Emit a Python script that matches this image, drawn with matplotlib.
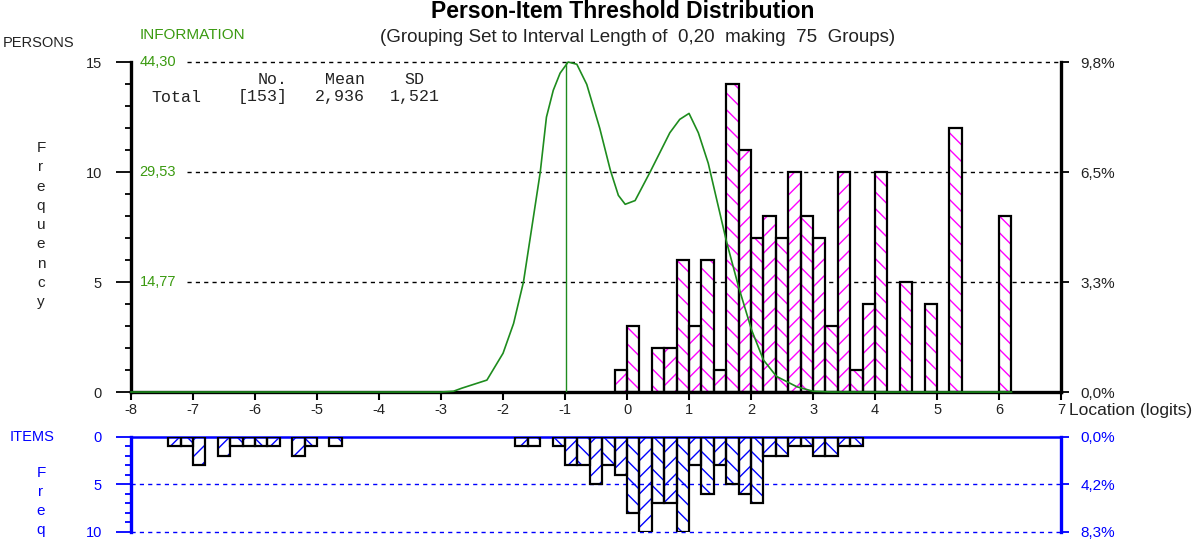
import numpy as np
import matplotlib.pyplot as plt

plt.rcParams['font.family'] = ['Liberation Sans', 'DejaVu Sans']
plt.rcParams['axes.unicode_minus'] = False
plt.rcParams['hatch.linewidth'] = 1.0

# person locations: left edge of each 0.2-logit group and the count in it
person_left = [-0.2, 0.0, 0.4, 0.6, 0.8, 1.0, 1.2, 1.4, 1.6, 1.8, 2.0, 2.2, 2.4,
               2.6, 2.8, 3.0, 3.2, 3.4, 3.6, 3.8, 4.0, 4.4, 4.8, 5.2, 6.0]
person_count = [1, 3, 2, 2, 6, 3, 6, 1, 14, 11, 7, 8, 7,
                10, 8, 7, 3, 10, 1, 4, 10, 5, 4, 12, 8]

# item thresholds, same grouping
item_left = [-7.4, -7.2, -7.0, -6.6, -6.4, -6.2, -6.0, -5.8, -5.4, -5.2, -4.8,
             -1.8, -1.6, -1.2, -1.0, -0.8, -0.6, -0.4, -0.2, 0.0, 0.2, 0.4, 0.6,
             0.8, 1.0, 1.2, 1.4, 1.6, 1.8, 2.0, 2.2, 2.4, 2.6, 2.8, 3.0, 3.2,
             3.4, 3.6]
item_count = [1, 1, 3, 2, 1, 1, 1, 1, 2, 1, 1,
              1, 1, 1, 3, 3, 5, 3, 4, 8, 10, 7, 7,
              10, 3, 6, 3, 5, 6, 7, 2, 2, 1, 1, 2, 2,
              1, 1]

# test information curve
info_x = [-8.0, -3.0, -2.8, -2.67, -2.26, -2.0, -1.83, -1.67, -1.51, -1.4, -1.3,
          -1.19, -1.08, -0.95, -0.81, -0.65, -0.44, -0.27, -0.14, -0.03, 0.13,
          0.37, 0.69, 0.85, 1.0, 1.15, 1.31, 1.45, 1.61, 1.8, 2.01, 2.2, 2.41,
          2.74, 3.0, 3.3, 6.2]
info_y = [0.0, 0.0, 0.1, 0.5, 1.6, 5.2, 9.2, 14.8, 23.5, 29.5, 36.9,
          40.5, 42.8, 44.3, 44.0, 41.3, 35.4, 29.8, 26.4, 25.2, 25.7,
          29.5, 34.8, 36.6, 37.4, 34.8, 30.7, 25.7, 20.0, 14.1, 8.3, 4.3, 2.1,
          0.7, 0.1, 0.0, 0.0]
info_max = 44.30
info_peak = -0.98

n_persons, mean_p, sd_p = 153, '2,936', '1,521'
n_items = sum(item_count)

GREEN = '#1e8c1e'
GREEN_T = '#3a9a10'
MAG = '#ff00ff'
BLUE = '#0000ff'
GREY = '#222222'


def comma(v, nd):
    return f'{v:.{nd}f}'.replace('.', ',')


def hatch_for(left):
    return '\\\\' if round((left + 8) / 0.2) % 2 == 0 else '//'


fig = plt.figure(figsize=(12, 5.44), dpi=100)
ax = fig.add_axes([0.1092, 0.2794, 0.7750, 0.6066])
ax2 = fig.add_axes([0.1092, 0.0221, 0.7750, 0.1746])

# ---- persons ----
for l, c in zip(person_left, person_count):
    ax.bar(l, c, width=0.2, align='edge', color='white', edgecolor=MAG,
           hatch=hatch_for(l), linewidth=0, zorder=2)
ax.bar(person_left, person_count, width=0.2, align='edge', fill=False,
       edgecolor='black', linewidth=1.6, zorder=3)

ax.set_xlim(-8, 7)
ax.set_ylim(0, 15)
ax.hlines([5, 10, 15], -7.1, 7, colors='black', linestyles=(0, (3, 3)),
          linewidth=1, zorder=1, clip_on=False)
for s in ['left', 'bottom', 'right']:
    ax.spines[s].set_linewidth(2.4)
ax.spines['top'].set_visible(False)
ax.set_yticks([0, 5, 10, 15])
ax.set_yticks(range(16), minor=True)
ax.set_xticks(range(-8, 8))
ax.tick_params(axis='y', which='major', direction='out', length=11, width=1.3,
               pad=10, labelsize=10.5, labelcolor=GREY)
ax.tick_params(axis='y', which='minor', direction='out', length=4.5, width=1.3)
ax.tick_params(axis='x', direction='out', length=6, width=1.5, pad=2,
               labelsize=10.5, labelcolor=GREY)

ax_r = ax.twinx()
ax_r.set_ylim(0, 15)
ax_r.set_yticks([0, 5, 10, 15])
ax_r.set_yticklabels([comma(v / n_persons * 100, 1) + '%' for v in [0, 5, 10, 15]])
ax_r.tick_params(axis='y', direction='out', length=6, width=1.3, pad=8,
                 labelsize=11, labelcolor=GREY)
for s in ax_r.spines.values():
    s.set_visible(False)

ax_i = ax.twinx()
ax_i.set_ylim(0, info_max)
ax_i.set_yticks([])
for s in ax_i.spines.values():
    s.set_visible(False)
ax_i.plot(info_x, info_y, color=GREEN, linewidth=1.2, clip_on=False)
ax_i.vlines(info_peak, 0, info_max, color=GREEN, linewidth=1)
for v in [info_max, info_max * 2 / 3, info_max / 3]:
    ax_i.text(-7.86, v, comma(v, 2), color=GREEN_T, fontsize=10.5, va='center')

# ---- items ----
for l, c in zip(item_left, item_count):
    ax2.bar(l, c, width=0.2, align='edge', color='white', edgecolor=BLUE,
            hatch=hatch_for(l), linewidth=0, zorder=2)
ax2.bar(item_left, item_count, width=0.2, align='edge', fill=False,
        edgecolor='black', linewidth=1.6, zorder=3)
ax2.set_xlim(-8, 7)
ax2.set_ylim(10, 0)
ax2.hlines([5, 10], -8, 7, colors=BLUE, linestyles=(0, (3, 3)), linewidth=1,
           clip_on=False)
ax2.spines['bottom'].set_visible(False)
for s in ['left', 'right', 'top']:
    ax2.spines[s].set_color(BLUE)
    ax2.spines[s].set_linewidth(2.4)
ax2.spines['top'].set_linewidth(1.8)
ax2.set_xticks([])
ax2.set_yticks([0, 5, 10])
ax2.set_yticks(range(11), minor=True)
ax2.tick_params(axis='y', which='major', direction='out', length=11, width=1.3,
                pad=10, labelsize=10.5, colors=BLUE)
ax2.tick_params(axis='y', which='minor', direction='out', length=4.5, width=1.3,
                colors=BLUE)

ax2r = ax2.twinx()
ax2r.set_ylim(10, 0)
ax2r.set_yticks([0, 5, 10])
ax2r.set_yticklabels([comma(v / n_items * 100, 1) + '%' for v in [0, 5, 10]])
ax2r.tick_params(axis='y', direction='out', length=6, width=1.3, pad=8,
                 labelsize=11, colors=BLUE)
for s in ax2r.spines.values():
    s.set_visible(False)

# ---- texts ----
W, H = 1200.0, 544.0


def ftext(x, y, s, **kw):
    fig.text(x / W, 1 - y / H, s, **kw)


ftext(623, 12, 'Person-Item Threshold Distribution', fontsize=16.5,
      fontweight='bold', ha='center', va='center', color='black')
ftext(638, 38, '(Grouping Set to Interval Length of  0,20  making  75  Groups)',
      fontsize=13.5, ha='center', va='center', color=GREY)
ftext(3, 43, 'PERSONS', fontsize=10.5, va='center', color=GREY)
ftext(140, 35, 'INFORMATION', fontsize=11, va='center', color=GREEN_T)
ftext(1069, 410, 'Location (logits)', fontsize=12.5, va='center', color=GREY)
ftext(10, 437, 'ITEMS', fontsize=10.5, va='center', color=BLUE)
for i, ch in enumerate('Frequency'):
    ftext(41, 148 + i * 19.3, ch, fontsize=11, ha='center', va='center',
          color=GREY)
for i, ch in enumerate('Freq'):
    ftext(41, 473 + i * 19, ch, fontsize=11, ha='center', va='center',
          color=BLUE)

mono = dict(family='Liberation Mono', fontsize=12, va='center', color=GREY)
ftext(288, 79, 'No.', ha='right', **mono)
ftext(365, 79, 'Mean', ha='right', **mono)
ftext(414, 79, 'SD', ha='center', **mono)
ftext(151, 97, 'Total', ha='left', **mono)
ftext(288, 97, f'[{n_persons}]', ha='right', **mono)
ftext(365, 97, mean_p, ha='right', **mono)
ftext(440, 97, sd_p, ha='right', **mono)

fig.savefig('out.png', dpi=100)
